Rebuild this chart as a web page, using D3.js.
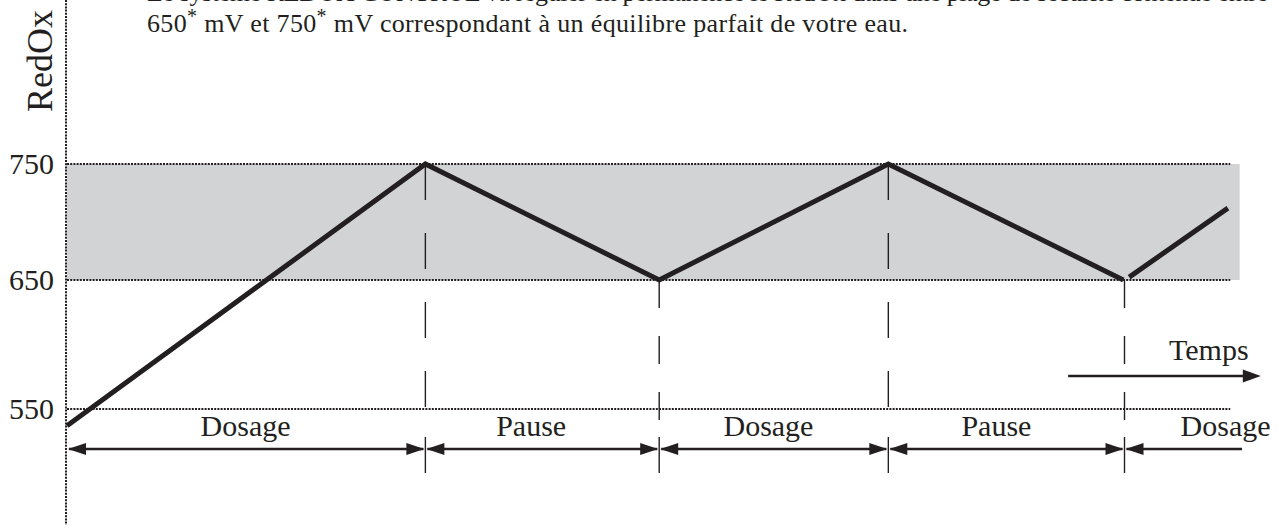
<!DOCTYPE html>
<html>
<head>
<meta charset="utf-8">
<script src="https://cdn.jsdelivr.net/npm/d3@7"></script>
<style>
  html, body { margin: 0; padding: 0; background: #ffffff; }
  svg { display: block; font-family: "Liberation Serif", "Times New Roman", serif; }
</style>
</head>
<body>
<div id="chart"></div>
<script>
// values (time in arbitrary units, redox in mV)
const curveTimes = [0, 30.5, 50.4, 69.9, 89.9];
const curveValues = [537, 750, 650, 750, 650];
const tailTimes = [90.4, 98.8];
const tailValues = [652.5, 712];
const yTicks = [550, 650, 750];
const bandValues = [650, 750];
const phaseBounds = [0, 30.5, 50.4, 69.9, 90, 100];
const phaseLabels = ["Dosage", "Pause", "Dosage", "Pause", "Dosage"];
const labelTimes = [15.2, 39.5, 59.7, 79.1, 98.6];
const markerValues = [750, 650, 750, 650];
const tempsArrow = [85.2, 101.6];

const width = 1288, height = 530;

let svg = d3.select("#chart")
            .append("svg")
            .attr("width", width)
            .attr("height", height);

// scales: the drawing is schematic, 650-750 is squeezed compared to 550-650
let x = d3.scaleLinear().domain([0, 100]).range([67, 1242]);
let y = d3.scaleLinear().domain([550, 650, 750]).range([409, 280, 164]);

const ink = "#231f20";

// text above the chart (first line is cut off by the top edge, as in the source)
svg.append("text")
   .attr("x", 147)
   .attr("y", 1)
   .attr("font-size", 26)
   .attr("fill", ink)
   .attr("textLength", 1121)
   .attr("lengthAdjust", "spacing")
   .text("Le système REDOX CONTROL va réguler en permanence le RedOx dans une plage de sécurité contenue entre");

let para = svg.append("text")
   .attr("x", 147)
   .attr("y", 32)
   .attr("font-size", 26)
   .attr("fill", ink)
   .attr("textLength", 761)
   .attr("lengthAdjust", "spacing");
para.append("tspan").text("650");
para.append("tspan").attr("dy", -9).attr("font-size", 20).text("*");
para.append("tspan").attr("dy", 9).text(" mV et 750");
para.append("tspan").attr("dy", -9).attr("font-size", 20).text("*");
para.append("tspan").attr("dy", 9).text(" mV correspondant à un équilibre parfait de votre eau.");

// grey band between 650 and 750
svg.append("rect")
   .attr("x", x(0))
   .attr("width", x(99.8) - x(0))
   .attr("y", y(bandValues[1]))
   .attr("height", y(bandValues[0]) - y(bandValues[1]))
   .attr("fill", "#d1d3d4");

// dotted reference lines
svg.selectAll(".grid")
   .data(yTicks)
   .enter().append("line")
   .attr("class", "grid")
   .attr("x1", x(0))
   .attr("x2", x(99))
   .attr("y1", d => y(d))
   .attr("y2", d => y(d))
   .attr("stroke", ink)
   .attr("stroke-width", 2)
   .attr("stroke-dasharray", "2,1.2");

// dotted vertical axis
svg.append("line")
   .attr("x1", 66).attr("x2", 66)
   .attr("y1", 0).attr("y2", 525)
   .attr("stroke", ink)
   .attr("stroke-width", 2)
   .attr("stroke-dasharray", "2,1.2");

// tick labels
let yAxis = svg.append("g")
   .attr("transform", "translate(66,0)")
   .call(d3.axisLeft(y).tickValues(yTicks).tickSize(0).tickPadding(12).tickFormat(d3.format("d")));
yAxis.select(".domain").remove();
yAxis.selectAll("text")
     .attr("font-family", "Liberation Serif, serif")
     .attr("font-size", 30)
     .attr("fill", ink);

// axis title
svg.append("text")
   .attr("transform", "translate(52,61) rotate(-90)")
   .attr("text-anchor", "middle")
   .attr("font-size", 36)
   .attr("fill", ink)
   .text("RedOx");

// dashed markers at each phase change
let markers = d3.range(markerValues.length).map(i => ({ t: phaseBounds[i + 1], v: markerValues[i] }));
svg.selectAll(".marker")
   .data(markers)
   .enter().append("line")
   .attr("class", "marker")
   .attr("x1", d => x(d.t))
   .attr("x2", d => x(d.t))
   .attr("y1", d => y(d.v))
   .attr("y2", 420)
   .attr("stroke", ink)
   .attr("stroke-width", 1.4)
   .attr("stroke-dasharray", d => d.v === 750 ? "36,33" : "28,28");

// separators on the phase arrow row
svg.selectAll(".sep")
   .data(phaseBounds.slice(1, 5))
   .enter().append("line")
   .attr("class", "sep")
   .attr("x1", d => x(d))
   .attr("x2", d => x(d))
   .attr("y1", 437)
   .attr("y2", 473)
   .attr("stroke", ink)
   .attr("stroke-width", 1.4);

// redox curve
let line = d3.line().x(d => x(d[0])).y(d => y(d[1]));
[d3.zip(curveTimes, curveValues), d3.zip(tailTimes, tailValues)].forEach(pts => {
  svg.append("path")
     .attr("d", line(pts))
     .attr("fill", "none")
     .attr("stroke", ink)
     .attr("stroke-width", 5)
     .attr("stroke-linejoin", "miter")
     .attr("stroke-miterlimit", 10);
});

// arrow helper: filled triangle pointing left or right
function head(px, py, dir, len, half) {
  let p = d3.path();
  p.moveTo(px, py);
  p.lineTo(px - dir * len, py - half);
  p.lineTo(px - dir * len, py + half);
  p.closePath();
  return p.toString();
}

// phase arrows
const rowY = 449;
d3.range(phaseLabels.length).forEach(i => {
  let x0 = x(phaseBounds[i]), x1 = x(phaseBounds[i + 1]);
  let last = i === phaseLabels.length - 1;
  svg.append("line")
     .attr("x1", x0 + 2).attr("x2", last ? x1 : x1 - 2)
     .attr("y1", rowY).attr("y2", rowY)
     .attr("stroke", ink)
     .attr("stroke-width", 2.5);
  svg.append("path").attr("d", head(x0 + 1, rowY, -1, 18, 6)).attr("fill", ink);
  if (!last) svg.append("path").attr("d", head(x1 - 1, rowY, 1, 18, 6)).attr("fill", ink);
  svg.append("text")
     .attr("x", x(labelTimes[i]))
     .attr("y", 436)
     .attr("text-anchor", "middle")
     .attr("font-size", 30)
     .attr("fill", ink)
     .text(phaseLabels[i]);
});

// time arrow
svg.append("line")
   .attr("x1", x(tempsArrow[0])).attr("x2", x(tempsArrow[1]) - 10)
   .attr("y1", 376).attr("y2", 376)
   .attr("stroke", ink)
   .attr("stroke-width", 2.5);
svg.append("path").attr("d", head(x(tempsArrow[1]), 376, 1, 18, 6.5)).attr("fill", ink);
svg.append("text")
   .attr("x", 1169)
   .attr("y", 360)
   .attr("font-size", 30)
   .attr("fill", ink)
   .text("Temps");
</script>
</body>
</html>
